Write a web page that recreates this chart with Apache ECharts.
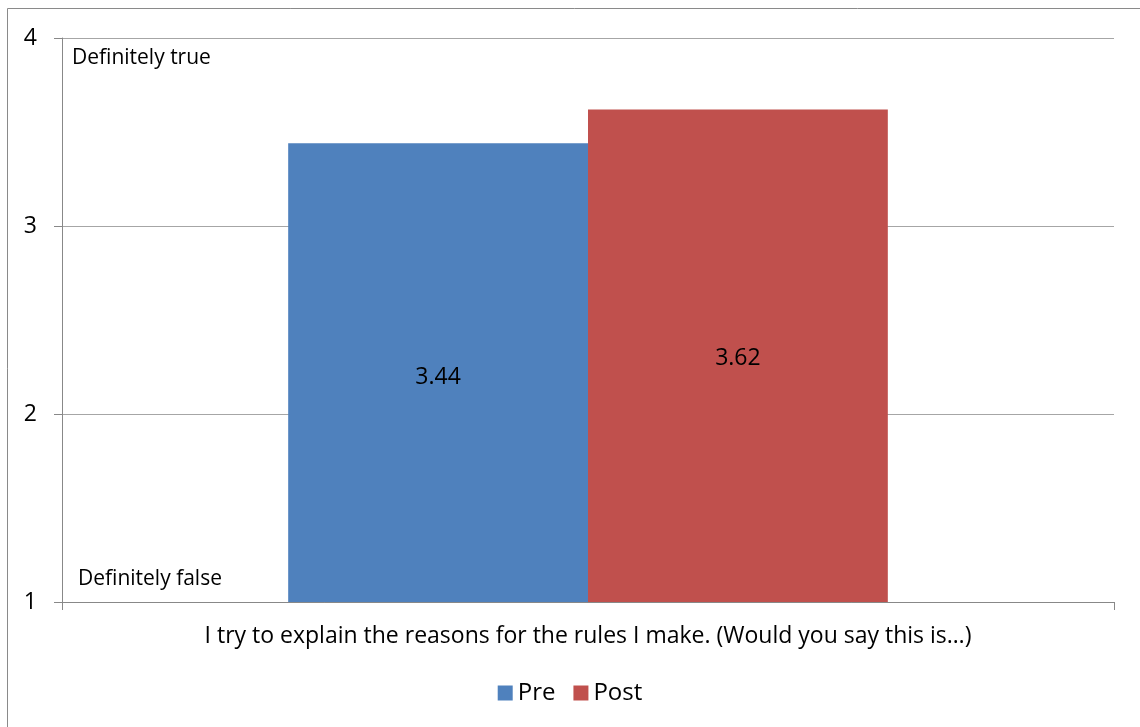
<!DOCTYPE html>
<html>
<head>
<meta charset="utf-8">
<script src="https://cdn.jsdelivr.net/npm/echarts@6/dist/echarts.min.js"></script>
<style>
html,body{margin:0;padding:0;background:#fff;}
#chart{width:1140px;height:727px;}
</style>
</head>
<body>
<div id="chart"></div>
<script>
const categories = ["I try to explain the reasons for the rules I make. (Would you say this is…)"];
const seriesNames = ["Pre", "Post"];
const preValues = [3.44];
const postValues = [3.62];
const yTicks = [1, 2, 3, 4];
const scaleLabels = ["Definitely true", "Definitely false"];

const FONT = "Open Sans";
const chart = echarts.init(document.getElementById('chart'));
chart.setOption({
  animation: false,
  backgroundColor: '#fff',
  textStyle: { fontFamily: FONT },
  grid: { left: 62, right: 26, top: 38, bottom: 125 },
  legend: {
    bottom: 17, left: 'center',
    itemWidth: 15, itemHeight: 15, itemGap: 18,
    icon: 'rect',
    textStyle: { fontSize: 24, color: '#000', fontFamily: FONT },
    data: seriesNames
  },
  graphic: [
    { type: 'rect', shape: { x: 7.5, y: 8.5, width: 1200, height: 800 }, style: { fill: 'none', stroke: '#8a8a8a', lineWidth: 1 }, silent: true },
    { type: 'text', left: 72, top: 48, style: { text: scaleLabels[0], fontSize: 21, fill: '#000', fontFamily: FONT } },
    { type: 'text', left: 78, top: 569, style: { text: scaleLabels[1], fontSize: 21, fill: '#000', fontFamily: FONT } }
  ],
  xAxis: {
    type: 'category',
    data: categories,
    axisLine: { lineStyle: { color: '#888' } },
    axisTick: { show: true, alignWithLabel: false, length: 8, lineStyle: { color: '#888' } },
    axisLabel: { fontSize: 23, color: '#000', margin: 23, fontFamily: FONT }
  },
  yAxis: {
    type: 'value',
    min: yTicks[0], max: yTicks[yTicks.length - 1], interval: 1,
    axisLine: { show: true, lineStyle: { color: '#888' } },
    axisTick: { show: true, length: 8, lineStyle: { color: '#888' } },
    splitLine: { lineStyle: { color: '#a6a6a6' } },
    axisLabel: { fontSize: 23, color: '#000', margin: 25, fontFamily: FONT }
  },
  series: [
    {
      name: seriesNames[0], type: 'bar', data: preValues,
      barGap: '0%', barCategoryGap: '43%',
      itemStyle: { color: '#4F81BD' },
      label: { show: true, position: 'inside', fontSize: 23, color: '#000', fontFamily: FONT, offset: [0, 5] }
    },
    {
      name: seriesNames[1], type: 'bar', data: postValues,
      itemStyle: { color: '#C0504D' },
      label: { show: true, position: 'inside', fontSize: 23, color: '#000', fontFamily: FONT, offset: [0, 3] }
    }
  ]
});
</script>
</body>
</html>
